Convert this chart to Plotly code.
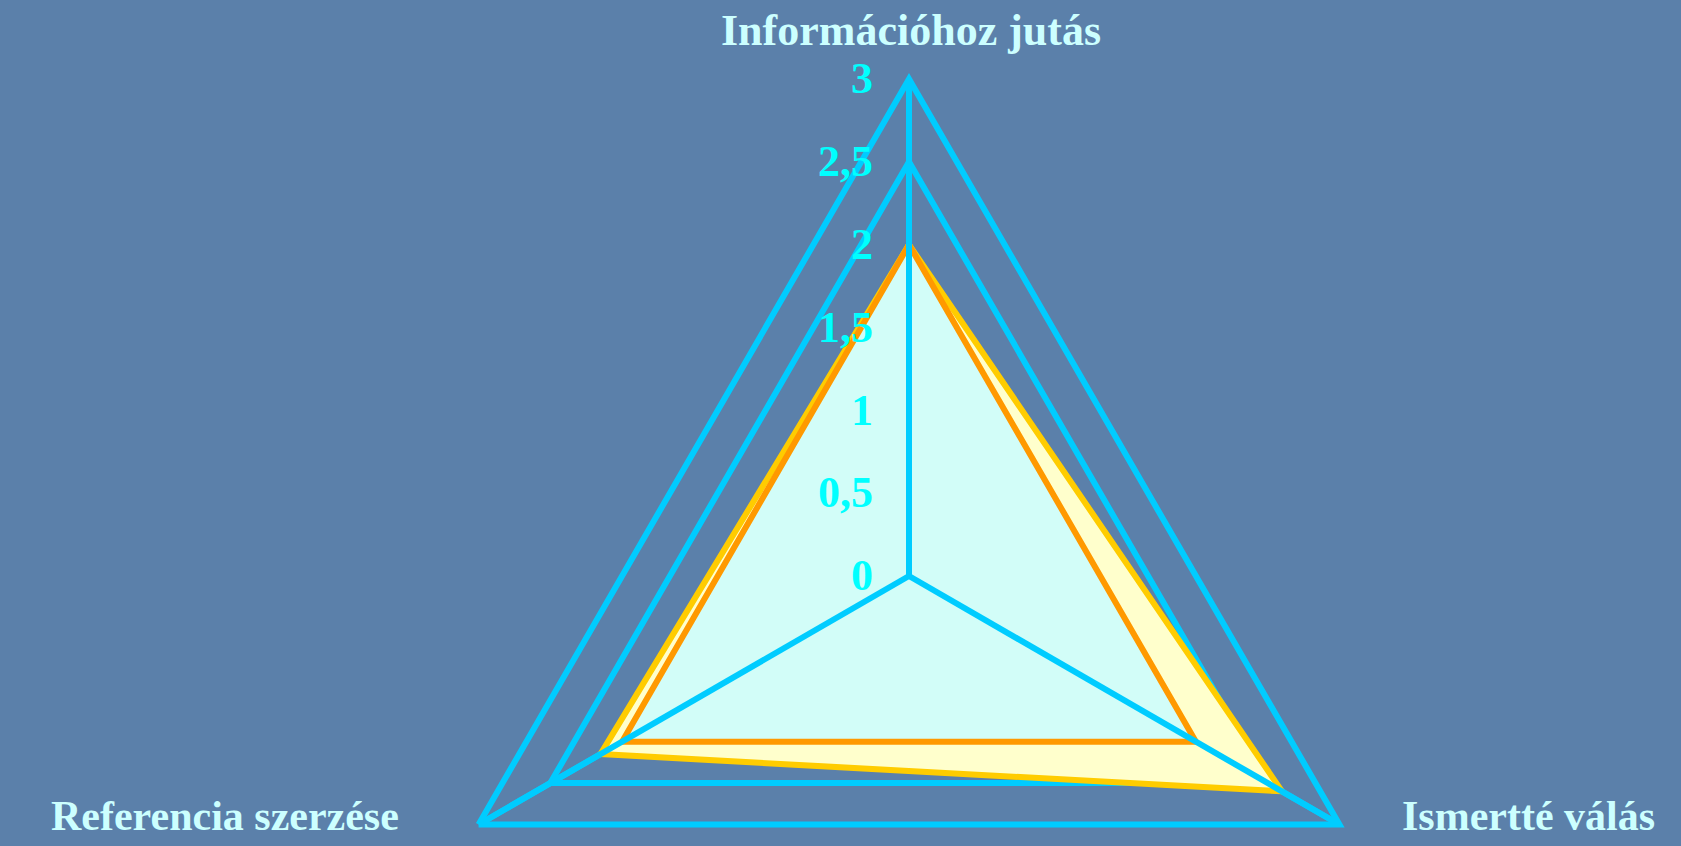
import plotly.graph_objects as go

categories = ["Információhoz jutás", "Ismertté válás", "Referencia szerzése"]
series_yellow = [2.0, 2.6, 2.15]
series_orange = [2.0, 2.0, 2.0]
radial_ticks = [0, 0.5, 1, 1.5, 2, 2.5, 3]
radial_ticktext = ["0", "0,5", "1", "1,5", "2", "2,5", "3"]
axis_max = 3

BG = "#5b80aa"
CYAN = "#00ccff"
TICK_CYAN = "#00ffff"
LABEL = "#ccffff"
FONT = "Liberation Serif"
LW = 6

def closed(vals):
    return list(vals) + [vals[0]]

fig = go.Figure()

fig.add_trace(go.Scatterpolar(
    r=closed(series_yellow), theta=closed(categories),
    mode="lines", fill="toself", fillcolor="#ffffcc",
    line=dict(color="#ffcc00", width=LW),
    showlegend=False, hoverinfo="skip",
))
fig.add_trace(go.Scatterpolar(
    r=closed(series_orange), theta=closed(categories),
    mode="lines", fill="toself", fillcolor="#d2fdf8",
    line=dict(color="#ff9900", width=LW),
    showlegend=False, hoverinfo="skip",
))

# spokes drawn above the filled areas
spoke_r, spoke_t = [], []
for i, c in enumerate(categories):
    spoke_r += [0, axis_max]
    spoke_t += [c, c]
    if i < len(categories) - 1:
        spoke_r.append(None)
        spoke_t.append(c)
fig.add_trace(go.Scatterpolar(
    r=spoke_r, theta=spoke_t, mode="lines",
    line=dict(color=CYAN, width=LW), connectgaps=False,
    showlegend=False, hoverinfo="skip",
))

W, H = 1681, 1080
R, cx, cy = 497, 909, 576

# category labels placed beside the triangle corners (as in the original slide)
label_pos = {
    categories[0]: dict(x=911, y=30, size=44),
    categories[1]: dict(x=1528, y=816, size=42),
    categories[2]: dict(x=225, y=816, size=42),
}
annotations = []
for c in categories:
    p = label_pos[c]
    annotations.append(dict(
        text=c, xref="paper", yref="paper",
        x=p["x"] / W, y=1 - p["y"] / H, xanchor="center", yanchor="middle",
        showarrow=False,
        font=dict(family=FONT, size=p["size"], color=LABEL, weight="bold"),
    ))

fig.update_layout(
    width=W, height=H, autosize=False,
    margin=dict(l=0, r=0, t=0, b=0),
    paper_bgcolor=BG, plot_bgcolor=BG,
    showlegend=False,
    annotations=annotations,
    polar=dict(
        domain=dict(x=[(cx - R) / W, (cx + R) / W],
                    y=[1 - (cy + R) / H, 1 - (cy - R) / H]),
        bgcolor="rgba(0,0,0,0)",
        gridshape="linear",
        radialaxis=dict(
            range=[0, axis_max], tickvals=radial_ticks, ticktext=radial_ticktext,
            angle=90, side="counterclockwise", tickangle=90,
            ticks="outside", ticklen=20, tickcolor="rgba(0,0,0,0)",
            showline=False, showgrid=True, gridcolor=CYAN, gridwidth=LW,
            tickfont=dict(family=FONT, size=44, color=TICK_CYAN, weight="bold"),
        ),
        angularaxis=dict(
            categoryorder="array", categoryarray=categories,
            direction="clockwise", rotation=90,
            showline=True, linecolor=CYAN, linewidth=LW,
            showgrid=True, gridcolor=CYAN, gridwidth=LW,
            ticks="", showticklabels=False,
        ),
    ),
)

fig.write_html(
    "out.html",
    config={"displayModeBar": False},
    post_script="document.body.style.margin='0';document.body.style.overflow='hidden';document.documentElement.style.overflow='hidden';",
)
